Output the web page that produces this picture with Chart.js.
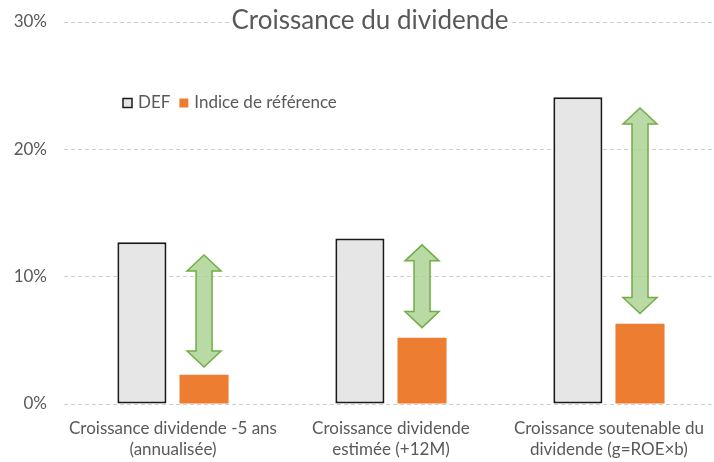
<!DOCTYPE html>
<html>
<head>
<meta charset="utf-8">
<script src="https://cdn.jsdelivr.net/npm/chart.js@4/dist/chart.umd.min.js"></script>
<style>
  html, body { margin: 0; padding: 0; background: #fff; overflow: hidden; }
  #wrap { width: 714px; height: 462px; overflow: hidden; }
</style>
</head>
<body>
<div id="wrap"><canvas id="myChart" width="718" height="462"></canvas></div>
<script>
const chartTitle = 'Croissance du dividende';
const categories = [
  ['Croissance dividende -5 ans', '(annualisée)'],
  ['Croissance dividende', 'estimée (+12M)'],
  ['Croissance soutenable du', 'dividende (g=ROE×b)']
];
const defValues = [12.7, 13.0, 24.1];
const indexValues = [2.3, 5.2, 6.3];
// double arrows: from / to, in %
const arrowTop = [11.7, 12.5, 23.25];
const arrowBottom = [2.9, 6.0, 7.1];
const yTicks = [0, 10, 20, 30];

const textColor = '#595959';
const fontFamily = 'Lato, "Open Sans", sans-serif';

// arrows drawn over the orange bars
const arrowPlugin = {
  id: 'arrows',
  afterDatasetsDraw(chart) {
    const ctx = chart.ctx;
    const y = chart.scales.y;
    const meta = chart.getDatasetMeta(1);
    const headW = 17, shaftW = 8, headH = 16;
    ctx.save();
    ctx.fillStyle = 'rgba(169, 209, 142, 0.8)';
    ctx.strokeStyle = '#70AD47';
    ctx.lineWidth = 1.5;
    ctx.lineJoin = 'miter';
    meta.data.forEach((bar, i) => {
      const x = bar.x;
      const t = y.getPixelForValue(arrowTop[i]);
      const b = y.getPixelForValue(arrowBottom[i]);
      ctx.beginPath();
      ctx.moveTo(x, t);
      ctx.lineTo(x + headW, t + headH);
      ctx.lineTo(x + shaftW, t + headH);
      ctx.lineTo(x + shaftW, b - headH);
      ctx.lineTo(x + headW, b - headH);
      ctx.lineTo(x, b);
      ctx.lineTo(x - headW, b - headH);
      ctx.lineTo(x - shaftW, b - headH);
      ctx.lineTo(x - shaftW, t + headH);
      ctx.lineTo(x - headW, t + headH);
      ctx.closePath();
      ctx.fill();
      ctx.stroke();
    });
    ctx.restore();
  }
};

// title over the top gridline, legend inside the plot
const titleLegendPlugin = {
  id: 'titleLegend',
  afterDraw(chart) {
    const ctx = chart.ctx;
    ctx.save();
    ctx.font = '26px ' + fontFamily;
    ctx.textBaseline = 'middle';
    ctx.textAlign = 'center';
    const w = ctx.measureText(chartTitle).width;
    const cx = 370, cy = 21;
    ctx.fillStyle = '#fff';
    ctx.fillRect(cx - w / 2 - 2, cy - 14, w + 4, 28);
    ctx.fillStyle = textColor;
    ctx.fillText(chartTitle, cx, cy);

    ctx.font = '17px ' + fontFamily;
    ctx.textAlign = 'left';
    let x = 123;
    const ly = 103;
    chart.data.datasets.forEach(ds => {
      ctx.fillStyle = ds.backgroundColor;
      ctx.fillRect(x, ly - 4.5, 9, 9);
      if (ds.borderWidth) {
        ctx.strokeStyle = ds.borderColor;
        ctx.lineWidth = 1.5;
        ctx.strokeRect(x, ly - 4.5, 9, 9);
      }
      ctx.fillStyle = textColor;
      ctx.fillText(ds.label, x + 15, ly);
      x += 15 + ctx.measureText(ds.label).width + 9;
    });
    ctx.restore();
  }
};

new Chart(document.getElementById('myChart'), {
  type: 'bar',
  data: {
    labels: categories,
    datasets: [
      {
        label: 'DEF',
        data: defValues,
        backgroundColor: '#E6E6E6',
        borderColor: '#1a1a1a',
        borderWidth: 2,
        borderSkipped: false
      },
      {
        label: 'Indice de référence',
        data: indexValues,
        backgroundColor: '#ED7D31',
        borderWidth: 0
      }
    ]
  },
  options: {
    responsive: false,
    animation: false,
    categoryPercentage: 0.57,
    barPercentage: 0.79,
    layout: { padding: { top: 22, right: 0, bottom: 0, left: 0 } },
    plugins: {
      legend: { display: false },
      title: { display: false },
      tooltip: { enabled: false }
    },
    scales: {
      x: {
        grid: { display: false, drawTicks: false },
        border: { display: false },
        ticks: {
          color: textColor,
          font: { family: fontFamily, size: 17, lineHeight: 1.25 },
          padding: 14,
          maxRotation: 0
        },
        afterFit(scale) { scale.height = 58; }
      },
      y: {
        min: 0,
        max: 30,
        afterBuildTicks(scale) { scale.ticks = yTicks.map(v => ({ value: v })); },
        grid: { color: '#CFCFCF', lineWidth: 1, drawTicks: false },
        border: { display: false, dash: [4, 3] },
        ticks: {
          color: textColor,
          font: { family: fontFamily, size: 17 },
          padding: 17,
          callback: v => v + '%'
        },
        afterFit(scale) {
          scale.width = 64;
          scale.paddingTop = 0;
          scale.paddingBottom = 0;
        }
      }
    }
  },
  plugins: [arrowPlugin, titleLegendPlugin]
});
</script>
</body>
</html>
